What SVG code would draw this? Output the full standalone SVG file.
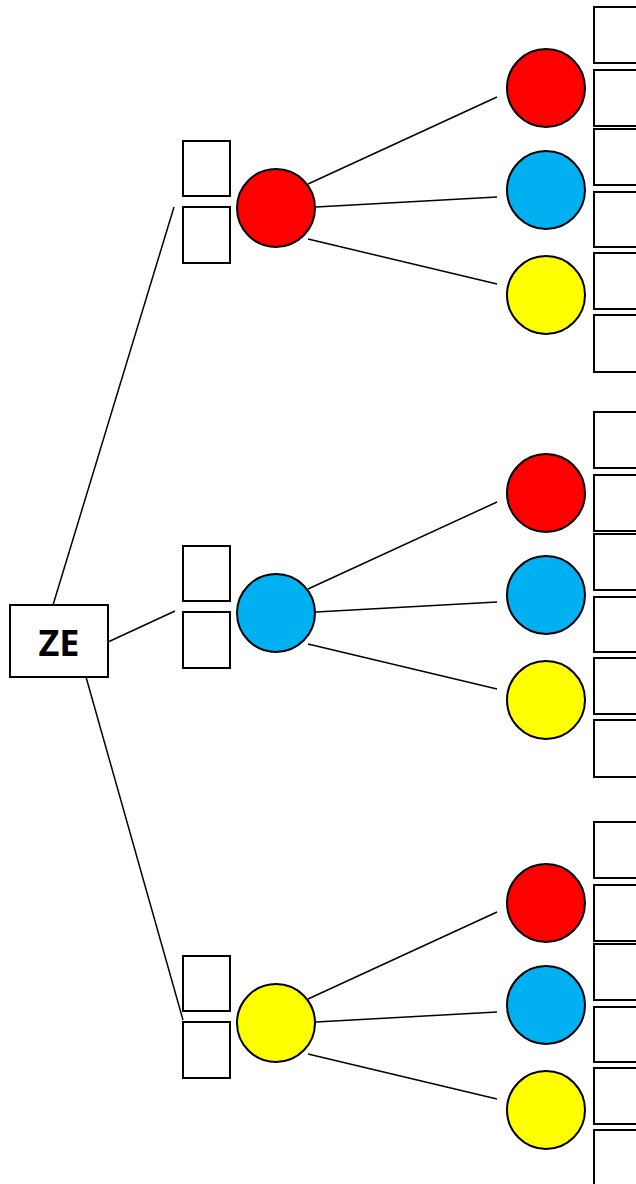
<svg xmlns="http://www.w3.org/2000/svg" width="636" height="1184" viewBox="0 0 636 1184">
<style>
.box{fill:#fff;stroke:#000;stroke-width:2}
.c{stroke:#000;stroke-width:2}
.r{fill:#FF0000}.b{fill:#00B0F0}.y{fill:#FFFF00}
.ln{stroke:#000;stroke-width:1.5;fill:none}
.t{font-family:"Open Sans","Liberation Sans",sans-serif;font-weight:bold;font-size:36px;text-anchor:middle}
</style>
<rect width="636" height="1184" fill="#fff"/>
<g id="connectors">
<line class="ln" x1="53" y1="605" x2="174" y2="207"/>
<line class="ln" x1="108" y1="642" x2="175" y2="611"/>
<line class="ln" x1="86" y1="677" x2="183" y2="1020"/>
<line class="ln" x1="308" y1="184" x2="497" y2="97"/>
<line class="ln" x1="316" y1="207" x2="497" y2="197"/>
<line class="ln" x1="308" y1="239" x2="497" y2="284"/>
<line class="ln" x1="308" y1="589" x2="497" y2="502"/>
<line class="ln" x1="316" y1="612" x2="497" y2="602"/>
<line class="ln" x1="308" y1="644" x2="497" y2="689"/>
<line class="ln" x1="308" y1="999" x2="497" y2="912"/>
<line class="ln" x1="316" y1="1022" x2="497" y2="1012"/>
<line class="ln" x1="308" y1="1054" x2="497" y2="1099"/>
</g>
<g id="ZE"><rect class="box" x="10" y="605" width="98" height="72"/><text class="t" x="59" y="656">ZE</text></g>
<g id="g1">
<rect class="box" x="183" y="141" width="47" height="55"/>
<rect class="box" x="183" y="207" width="47" height="56"/>
<circle class="c r" cx="276" cy="208" r="39"/>
</g>
<g id="g2">
<rect class="box" x="183" y="546" width="47" height="55"/>
<rect class="box" x="183" y="612" width="47" height="56"/>
<circle class="c b" cx="276" cy="613" r="39"/>
</g>
<g id="g3">
<rect class="box" x="183" y="956" width="47" height="55"/>
<rect class="box" x="183" y="1022" width="47" height="56"/>
<circle class="c y" cx="276" cy="1023" r="39"/>
</g>
<g id="g1r">
<circle class="c r" cx="546" cy="88" r="39"/>
<circle class="c b" cx="546" cy="190" r="39"/>
<circle class="c y" cx="546" cy="295" r="39"/>
<rect class="box" x="594" y="7" width="60" height="56"/>
<rect class="box" x="594" y="70" width="60" height="56"/>
<rect class="box" x="594" y="129" width="60" height="56"/>
<rect class="box" x="594" y="192" width="60" height="55"/>
<rect class="box" x="594" y="253" width="60" height="56"/>
<rect class="box" x="594" y="315" width="60" height="57"/>
</g>
<g id="g2r">
<circle class="c r" cx="546" cy="493" r="39"/>
<circle class="c b" cx="546" cy="595" r="39"/>
<circle class="c y" cx="546" cy="700" r="39"/>
<rect class="box" x="594" y="412" width="60" height="56"/>
<rect class="box" x="594" y="475" width="60" height="56"/>
<rect class="box" x="594" y="534" width="60" height="56"/>
<rect class="box" x="594" y="597" width="60" height="55"/>
<rect class="box" x="594" y="658" width="60" height="56"/>
<rect class="box" x="594" y="720" width="60" height="57"/>
</g>
<g id="g3r">
<circle class="c r" cx="546" cy="903" r="39"/>
<circle class="c b" cx="546" cy="1005" r="39"/>
<circle class="c y" cx="546" cy="1110" r="39"/>
<rect class="box" x="594" y="822" width="60" height="56"/>
<rect class="box" x="594" y="885" width="60" height="56"/>
<rect class="box" x="594" y="944" width="60" height="56"/>
<rect class="box" x="594" y="1007" width="60" height="55"/>
<rect class="box" x="594" y="1068" width="60" height="56"/>
<rect class="box" x="594" y="1130" width="60" height="57"/>
</g>
</svg>
